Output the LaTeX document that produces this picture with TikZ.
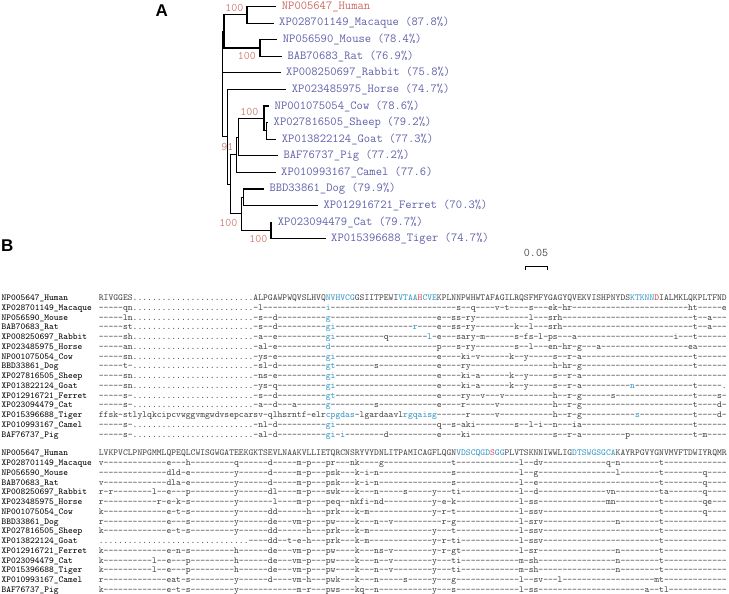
\documentclass[tikz,border=0pt]{standalone}
\usepackage{fontspec}
\usepackage[dvipsnames]{xcolor}
\newfontfamily\panelfont{Liberation Sans}
\definecolor{leafblue}{RGB}{95,95,170}
\definecolor{humanred}{RGB}{205,105,95}
\definecolor{bootred}{RGB}{205,125,115}
\definecolor{seqblue}{RGB}{55,150,195}
\definecolor{seqred}{RGB}{215,75,75}
\definecolor{seqgray}{RGB}{70,70,70}
\ExplSyntaxOn
\NewDocumentCommand\gap{m}{\prg_replicate:nn{#1}{-\kern0pt}}
\NewDocumentCommand\dts{m}{\prg_replicate:nn{#1}{.}}
\ExplSyntaxOff
\newcommand\hlb[1]{\textcolor{seqblue}{#1}}
\newcommand\hlr[1]{\textcolor{seqred}{#1}}

\begin{document}
\begin{tikzpicture}[x=1pt,y=-1pt,
  branch/.style={line width=1.1pt,line cap=rect},
  leaf/.style={anchor=west,inner sep=0pt,xshift=6pt,text=leafblue,font=\ttfamily\fontsize{12.25}{13}\selectfont},
  boot/.style={anchor=east,inner sep=0pt,text=bootred,font=\ttfamily\fontsize{11.6}{12}\selectfont},
  rowlab/.style={anchor=base west,inner sep=0pt,font=\ttfamily\fontsize{9.05}{9}\selectfont},
  seq/.style={anchor=base west,inner sep=0pt,text=seqgray,font=\ttfamily\fontsize{9.2}{9}\selectfont},
  panel/.style={inner sep=0pt,font=\panelfont\bfseries\fontsize{17}{17}\selectfont}]

\useasboundingbox (0,0) rectangle (729,594);

\node[panel] (A) at (161.7,10.8) {A};
\node[panel] (B) at (7.2,246) {B};

% tree
\begin{scope}[yshift=-1.5pt]
\coordinate (root) at (222.5,82.65);
\coordinate (nPR) at (224,29.9);
\coordinate (nHM) at (247,13.3);
\coordinate (nMR) at (260,46.5);
\coordinate (nD) at (227.5,135.4);
\coordinate (nC) at (230.7,182.85);
\coordinate (nCet) at (236.5,153.3);
\coordinate (nCP) at (238.8,135.7);
\coordinate (nCow) at (264,117);
\coordinate (nSG) at (266.5,129.4);
\coordinate (nCarn) at (241.7,212.4);
\coordinate (nDF) at (243.3,195.8);
\coordinate (nCT) at (271,229);

\coordinate (t-human) at (275.7,5);
\coordinate (t-macaque) at (273,21.6);
\coordinate (t-mouse) at (276.7,38.2);
\coordinate (t-rat) at (281.3,54.8);
\coordinate (t-rabbit) at (280,71.4);
\coordinate (t-horse) at (285.7,88);
\coordinate (t-cow) at (268.5,104.5);
\coordinate (t-sheep) at (267.5,121.1);
\coordinate (t-goat) at (275.7,137.7);
\coordinate (t-pig) at (277.3,154.3);
\coordinate (t-camel) at (275,170.9);
\coordinate (t-dog) at (263.3,187.5);
\coordinate (t-ferret) at (317.3,204.1);
\coordinate (t-cat) at (271.7,220.7);
\coordinate (t-tiger) at (325,237.3);

\draw[branch] (root) |- (nPR);
\draw[branch] (root) |- (t-rabbit);
\draw[branch] (root) |- (nD);
\draw[branch] (nPR) |- (nHM);
\draw[branch] (nPR) |- (nMR);
\draw[branch] (nHM) |- (t-human);
\draw[branch] (nHM) |- (t-macaque);
\draw[branch] (nMR) |- (t-mouse);
\draw[branch] (nMR) |- (t-rat);
\draw[branch] (nD) |- (t-horse);
\draw[branch] (nD) |- (nC);
\draw[branch] (nC) |- (nCet);
\draw[branch] (nC) |- (nCarn);
\draw[branch] (nCet) |- (nCP);
\draw[branch] (nCet) |- (t-camel);
\draw[branch] (nCP) |- (nCow);
\draw[branch] (nCP) |- (t-pig);
\draw[branch] (nCow) |- (t-cow);
\draw[branch] (nCow) |- (nSG);
\draw[branch] (nSG) |- (t-sheep);
\draw[branch] (nSG) |- (t-goat);
\draw[branch] (nCarn) |- (nDF);
\draw[branch] (nCarn) |- (nCT);
\draw[branch] (nDF) |- (t-dog);
\draw[branch] (nDF) |- (t-ferret);
\draw[branch] (nCT) |- (t-cat);
\draw[branch] (nCT) |- (t-tiger);

\node[leaf,text=humanred] (human) at (t-human) {NP005647\_Human};
\node[leaf] (macaque) at (t-macaque) {XP028701149\_Macaque (87.8\%)};
\node[leaf] (mouse) at (t-mouse) {NP056590\_Mouse (78.4\%)};
\node[leaf] (rat) at (t-rat) {BAB70683\_Rat (76.9\%)};
\node[leaf] (rabbit) at (t-rabbit) {XP008250697\_Rabbit (75.8\%)};
\node[leaf] (horse) at (t-horse) {XP023485975\_Horse (74.7\%)};
\node[leaf] (cow) at (t-cow) {NP001075054\_Cow (78.6\%)};
\node[leaf] (sheep) at (t-sheep) {XP027816505\_Sheep (79.2\%)};
\node[leaf] (goat) at (t-goat) {XP013822124\_Goat (77.3\%)};
\node[leaf] (pig) at (t-pig) {BAF76737\_Pig (77.2\%)};
\node[leaf] (camel) at (t-camel) {XP010993167\_Camel (77.6)};
\node[leaf] (dog) at (t-dog) {BBD33861\_Dog (79.9\%)};
\node[leaf] (ferret) at (t-ferret) {XP012916721\_Ferret (70.3\%)};
\node[leaf] (cat) at (t-cat) {XP023094479\_Cat (79.7\%)};
\node[leaf] (tiger) at (t-tiger) {XP015396688\_Tiger (74.7\%)};

\node[boot] (b-hm) at (243.5,6.5) {100};
\node[boot] (b-mr) at (256,54) {100};
\node[boot] (b-cow) at (258.5,110) {100};
\node[boot] (b-cp) at (233.5,145) {91};
\node[boot] (b-carn) at (237.5,221) {100};
\node[boot] (b-ct) at (267.5,237.3) {100};
\end{scope}

% scale bar
\coordinate (sb-l) at (525,266);
\coordinate (sb-r) at (547,266);
\draw[line width=1pt] ([yshift=-4pt]sb-l) -- (sb-l) -- (sb-r) -- ([yshift=-4pt]sb-r);
\node[inner sep=0pt,text=seqgray,font=\ttfamily\fontsize{11.7}{12}\selectfont] (sb-txt) at (536,252.5) {0.05};

% alignment, first block
\node[rowlab] (l1-human) at (1.4,300.7) {NP005647\_Human};
\node[seq] (s1-human) at (98.7,300.7) {RIVGGES\dts{25}ALPGAWPWQVSLHVQ\hlb{NVHVCG}GSIITPEWI\hlb{VTAA}\hlr{H}\hlb{CVE}KPLNNPWHWTAFAGILRQSFMFYGAGYQVEKVISHPNYDS\hlb{KTKNN}\hlr{D}IALMKLQKPLTFND};
\node[rowlab] (l1-macaque) at (1.4,310.44) {XP028701149\_Macaque};
\node[seq] (s1-macaque) at (98.7,310.44) {\gap{5}qn\dts{25}-l\gap{13}\hlb{i}\gap{26}s\gap{2}q\gap{4}v-t\gap{4}s\gap{3}ek-hr\gap{24}ht\gap{5}e};
\node[rowlab] (l1-mouse) at (1.4,320.18) {NP056590\_Mouse};
\node[seq] (s1-mouse) at (98.7,320.18) {\gap{5}ln\dts{25}-s\gap{2}d\gap{10}\hlb{g}\gap{22}e\gap{2}ss-ry\gap{11}l\gap{3}srh\gap{27}t\gap{2}a\gap{3}};
\node[rowlab] (l1-rat) at (1.4,329.92) {BAB70683\_Rat};
\node[seq] (s1-rat) at (98.7,329.92) {\gap{5}st\dts{25}-s\gap{2}d\gap{10}\hlb{gi}\gap{16}\hlb{r}\gap{4}e\gap{2}ss-ry\gap{8}k\gap{2}l\gap{3}srh\gap{27}t\gap{2}a\gap{3}};
\node[rowlab] (l1-rabbit) at (1.4,339.66) {XP008250697\_Rabbit};
\node[seq] (s1-rabbit) at (98.7,339.66) {\gap{5}sh\dts{25}-a\gap{2}e\gap{10}\hlb{gi}\gap{10}q\gap{8}\hlb{l}-e\gap{3}sary-m\gap{6}s-fs-l-ps\gap{3}a\gap{20}i\gap{3}t\gap{6}};
\node[rowlab] (l1-horse) at (1.4,349.4) {XP023485975\_Horse};
\node[seq] (s1-horse) at (98.7,349.4) {\gap{5}an\dts{25}-al-e\gap{10}\hlb{d}\gap{22}p\gap{3}s-ry\gap{8}s\gap{2}l\gap{3}en-hr-g\gap{3}a\gap{18}ea\gap{6}};
\node[rowlab] (l1-cow) at (1.4,359.14) {NP001075054\_Cow};
\node[seq] (s1-cow) at (98.7,359.14) {\gap{5}sn\dts{25}-ys-e\gap{10}\hlb{gi}\gap{21}e\gap{4}ki-v\gap{6}k\gap{2}y\gap{5}s\gap{2}r-a\gap{23}t\gap{6}};
\node[rowlab] (l1-dog) at (1.4,368.88) {BBD33861\_Dog};
\node[seq] (s1-dog) at (98.7,368.88) {\gap{5}t-\dts{25}-sl-d\gap{10}\hlb{gt}\gap{8}s\gap{12}e\gap{4}ry\gap{17}h-hr-g\gap{23}t\gap{6}};
\node[rowlab] (l1-sheep) at (1.4,378.62) {XP027816505\_Sheep};
\node[seq] (s1-sheep) at (98.7,378.62) {\gap{5}sn\dts{25}-ns-e\gap{10}\hlb{gi}\gap{21}e\gap{4}ki-a\gap{6}k\gap{2}y\gap{5}s\gap{2}r-a\gap{30}};
\node[rowlab] (l1-goat) at (1.4,388.36) {XP013822124\_Goat};
\node[seq] (s1-goat) at (98.7,388.36) {\gap{5}sn\dts{25}-ys-q\gap{10}\hlb{gi}\gap{21}e\gap{4}ki-a\gap{6}k\gap{2}y\gap{5}s\gap{2}r-a\gap{10}\hlb{n}\gap{12}t\gap{5}.};
\node[rowlab] (l1-ferret) at (1.4,398.1) {XP012916721\_Ferret};
\node[seq] (s1-ferret) at (98.7,398.1) {\gap{5}s-\dts{25}-s\gap{2}d\gap{10}\hlb{gt}\gap{21}e\gap{4}ry\gap{2}v\gap{3}v\gap{10}h\gap{2}r-g\gap{6}s\gap{16}t\gap{4}s-};
\node[rowlab] (l1-cat) at (1.4,407.84) {XP023094479\_Cat};
\node[seq] (s1-cat) at (98.7,407.84) {\gap{5}s-\dts{25}-a\gap{2}d\gap{3}a\gap{6}\hlb{g}\gap{9}s\gap{12}e\gap{4}r\gap{6}v\gap{11}h\gap{2}r-g\gap{23}t\gap{4}d-};
\node[rowlab] (l1-tiger) at (1.4,417.58) {XP015396688\_Tiger};
\node[seq] (s1-tiger) at (98.7,417.58) {ffsk-stlylqkcipcvwggvmgwdvsepcarsv-qlhsrntf-elr\hlb{cpgdas}-lgardaavl\hlb{rgqaisg}\gap{6}r\gap{5}v\gap{11}h\gap{2}r-g\gap{11}\hlb{s}\gap{11}t\gap{4}d-};
\node[rowlab] (l1-camel) at (1.4,427.32) {XP010993167\_Camel};
\node[seq] (s1-camel) at (98.7,427.32) {\gap{5}s-\dts{25}-nl-d\gap{10}\hlb{gi}\gap{21}q\gap{2}s-aki\gap{8}s\gap{2}l-i\gap{2}n\gap{3}ia\gap{23}t\gap{6}};
\node[rowlab] (l1-pig) at (1.4,437.06) {BAF76737\_Pig};
\node[seq] (s1-pig) at (98.7,437.06) {\gap{5}s-\dts{25}-al-d\gap{10}\hlb{gi}-\hlb{i}\gap{8}d\gap{10}e\gap{4}ki\gap{17}s\gap{2}r-a\gap{9}p\gap{13}t-m\gap{4}};

% alignment, second block
\node[rowlab] (l2-human) at (1.4,455.9) {NP005647\_Human};
\node[seq] (s2-human) at (98.7,455.9) {LVKPVCLPNPGMMLQPEQLCWISGWGATEEKGKTSEVLNAAKVLLIETQRCNSRYVYDNLITPAMICAGFLQGN\hlb{VDSCQGD}\hlr{S}\hlb{GG}PLVTSKNNIWWLIG\hlb{DTSWGSGCA}KAYRPGVYGNVMVFTDWIYRQMR};
\node[rowlab] (l2-macaque) at (1.4,465.65) {XP028701149\_Macaque};
\node[seq] (s2-macaque) at (98.7,465.65) {v\gap{13}e\gap{3}h\gap{9}q\gap{6}d\gap{5}m-p\gap{3}pr\gap{3}nk\gap{4}g\gap{14}t\gap{13}l\gap{2}dv\gap{13}q-n\gap{8}t\gap{13}};
\node[rowlab] (l2-mouse) at (1.4,475.4) {NP056590\_Mouse};
\node[seq] (s2-mouse) at (98.7,475.4) {\gap{14}dld-e\gap{9}y\gap{6}d\gap{5}m-p\gap{3}psk\gap{3}k-i-n\gap{15}s\gap{13}l\gap{2}g\gap{16}l\gap{8}t\gap{8}q\gap{4}};
\node[rowlab] (l2-rat) at (1.4,485.15) {BAB70683\_Rat};
\node[seq] (s2-rat) at (98.7,485.15) {v\gap{13}dla-e\gap{9}y\gap{6}d\gap{5}m-p\gap{3}psk\gap{3}k-i-n\gap{15}s\gap{13}l\gap{2}e\gap{25}t\gap{8}q\gap{4}};
\node[rowlab] (l2-rabbit) at (1.4,494.9) {XP008250697\_Rabbit};
\node[seq] (s2-rabbit) at (98.7,494.9) {r-r\gap{8}l\gap{2}e\gap{3}p\gap{9}y\gap{6}dl\gap{4}m-p\gap{3}swk\gap{3}k\gap{3}n\gap{5}s\gap{5}y\gap{3}ti\gap{12}l\gap{2}d\gap{14}vn\gap{9}ta\gap{7}q\gap{4}};
\node[rowlab] (l2-horse) at (1.4,504.65) {XP023485975\_Horse};
\node[seq] (s2-horse) at (98.7,504.65) {r\gap{11}r-e-k-s\gap{9}y\gap{7}l\gap{4}m-p\gap{3}peq\gap{2}nkfi-nd\gap{10}y-e-k\gap{13}l-ss\gap{14}mn\gap{9}t\gap{8}qe\gap{3}};
\node[rowlab] (l2-cow) at (1.4,514.4) {NP001075054\_Cow};
\node[seq] (s2-cow) at (98.7,514.4) {k\gap{13}e-t-s\gap{9}y\gap{6}dd\gap{6}h\gap{3}prk\gap{3}k-m\gap{13}y-r-t\gap{13}l-ssv\gap{24}t\gap{8}q\gap{4}};
\node[rowlab] (l2-dog) at (1.4,524.15) {BBD33861\_Dog};
\node[seq] (s2-dog) at (98.7,524.15) {r\gap{13}e\gap{3}s\gap{9}y\gap{6}de\gap{3}vm-p\gap{3}pw\gap{4}k\gap{3}n\gap{2}v\gap{10}r-g\gap{13}l-srv\gap{15}n\gap{8}t\gap{13}};
\node[rowlab] (l2-sheep) at (1.4,533.9) {XP027816505\_Sheep};
\node[seq] (s2-sheep) at (98.7,533.9) {k\gap{13}e-t-s\gap{9}y\gap{6}dd\gap{6}h\gap{3}prk\gap{3}k-m\gap{13}y\gap{3}t\gap{13}l-ssv\gap{24}t\gap{13}};
\node[rowlab] (l2-goat) at (1.4,543.65) {XP013822124\_Goat};
\node[seq] (s2-goat) at (98.7,543.65) {\dts{31}\gap{4}dd\gap{2}t-e-h\gap{3}prk\gap{3}k-m\gap{13}y-r-ti\gap{12}l-ssv\gap{24}t\gap{13}};
\node[rowlab] (l2-ferret) at (1.4,553.4) {XP012916721\_Ferret};
\node[seq] (s2-ferret) at (98.7,553.4) {k\gap{13}e-n-s\gap{9}h\gap{6}de\gap{3}vm-p\gap{3}pw\gap{4}k\gap{3}ns-v\gap{8}y-r-gt\gap{12}l-sr\gap{16}n\gap{8}t\gap{13}};
\node[rowlab] (l2-cat) at (1.4,563.15) {XP023094479\_Cat};
\node[seq] (s2-cat) at (98.7,563.15) {k\gap{10}l\gap{2}e\gap{3}p\gap{9}h\gap{6}de\gap{3}vm-p\gap{3}pw\gap{4}k\gap{3}n\gap{2}v\gap{8}y\gap{3}ti\gap{12}m-sh\gap{16}n\gap{8}t\gap{13}};
\node[rowlab] (l2-tiger) at (1.4,572.9) {XP015396688\_Tiger};
\node[seq] (s2-tiger) at (98.7,572.9) {k\gap{10}l\gap{2}e\gap{3}p\gap{9}h\gap{6}de\gap{3}vm-p\gap{3}pw\gap{4}k\gap{3}n\gap{2}v\gap{8}y\gap{3}ti\gap{12}m-sh\gap{16}n\gap{8}t\gap{13}};
\node[rowlab] (l2-camel) at (1.4,582.65) {XP010993167\_Camel};
\node[seq] (s2-camel) at (98.7,582.65) {r\gap{13}eat-s\gap{9}y\gap{6}d\gap{4}vm-h\gap{3}pwk\gap{3}k\gap{3}n\gap{5}s\gap{5}y\gap{3}g\gap{13}l\gap{2}sv\gap{3}l\gap{19}mt\gap{13}};
\node[rowlab] (l2-pig) at (1.4,592.4) {BAF76737\_Pig};
\node[seq] (s2-pig) at (98.7,592.4) {k\gap{13}e-t-s\gap{9}y\gap{12}m-r\gap{3}pws\gap{3}kq\gap{2}n\gap{11}y\gap{3}s\gap{13}l-ss\gap{22}a\gap{2}tl\gap{12}};

\end{tikzpicture}
\end{document}
